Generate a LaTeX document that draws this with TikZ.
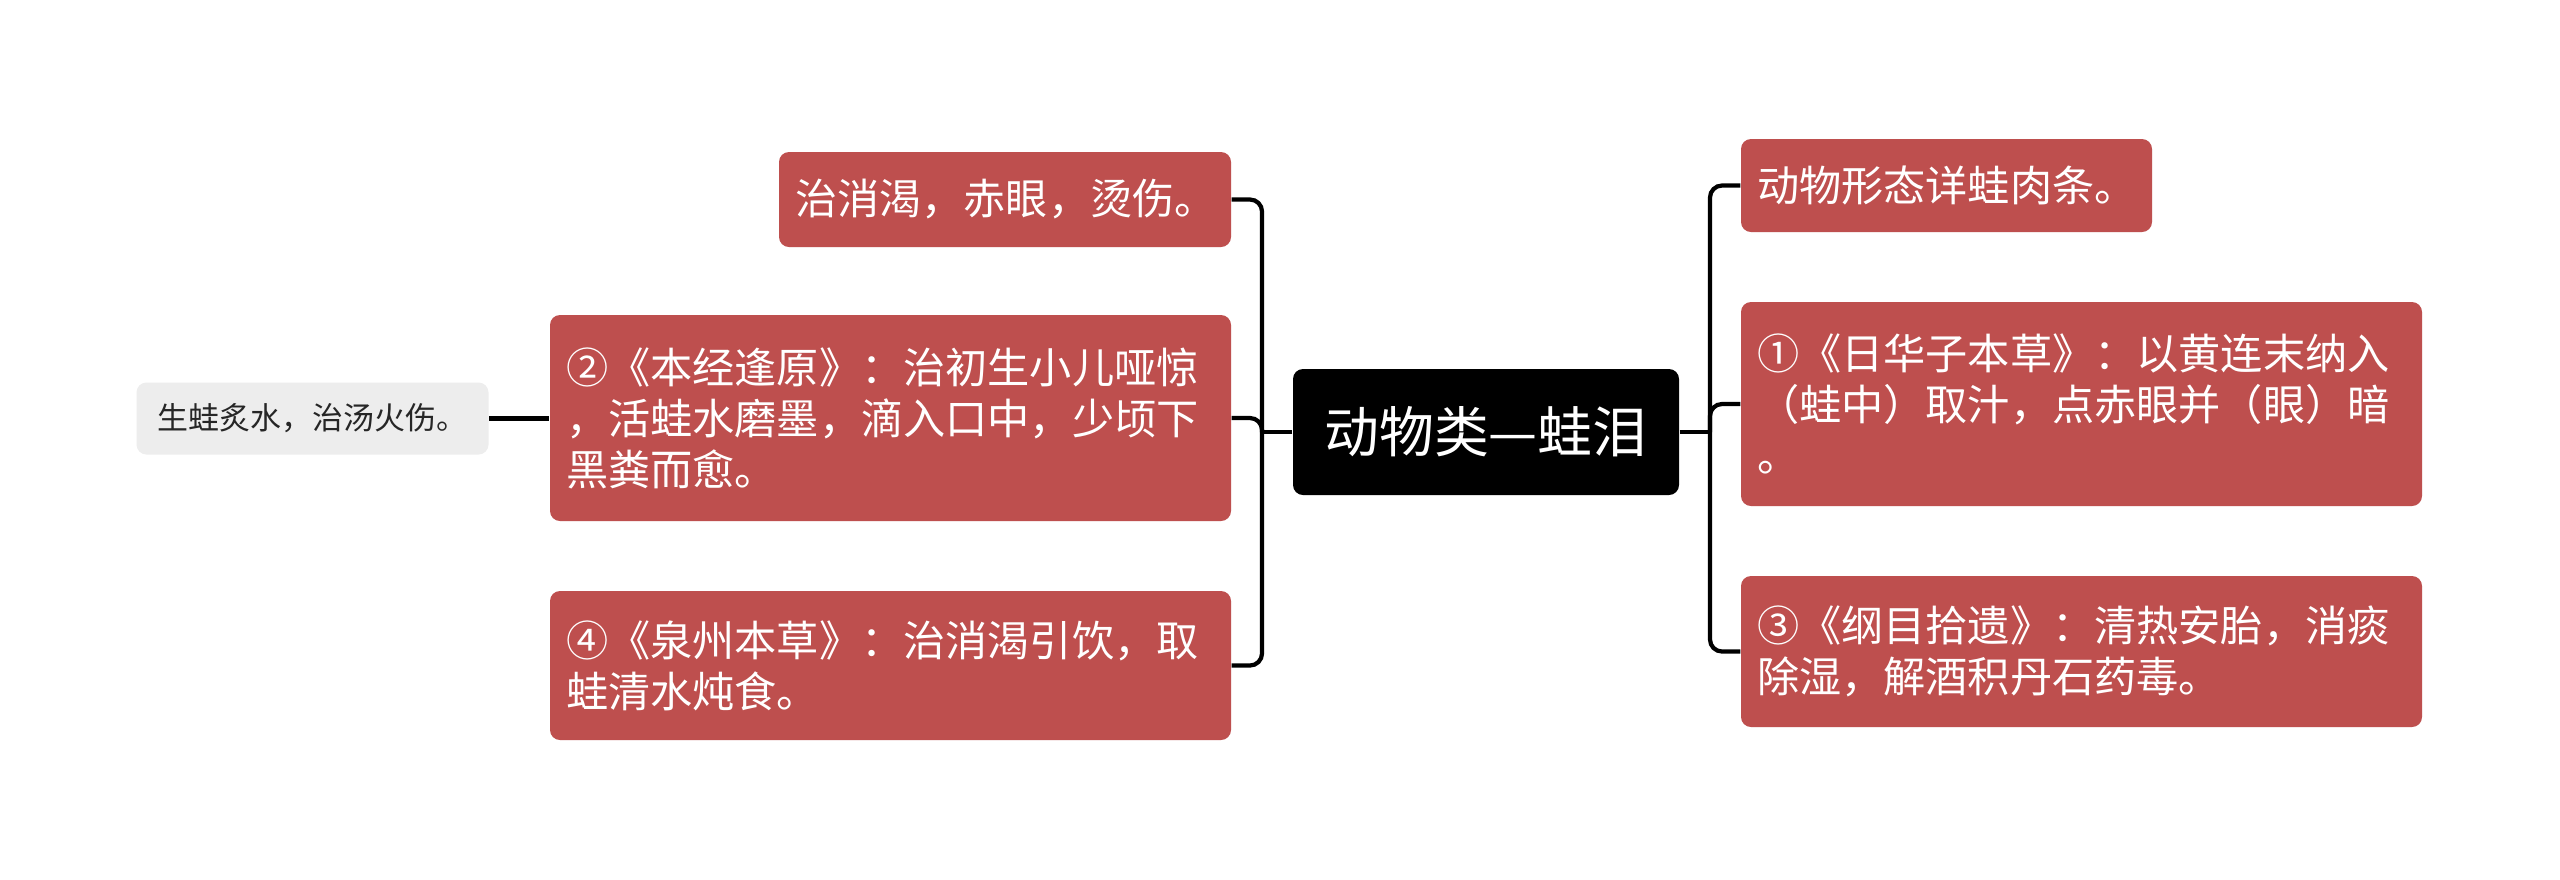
\documentclass[tikz,border=0pt]{standalone}
\usepackage{fontspec}
\setmainfont{Noto Sans CJK SC}
\usepackage{xcolor}
\usetikzlibrary{calc}
\definecolor{boxred}{RGB}{190,79,78}
\definecolor{boxgray}{RGB}{237,237,237}

\begin{document}
\begin{tikzpicture}[y=-1cm,
  redbox/.style={fill=boxred,text=white,rounded corners=0.1cm,align=left,inner xsep=0.16cm,inner ysep=0pt,font=\fontsize{12}{14.5}\selectfont},
  rootbox/.style={fill=black,text=white,rounded corners=0.1cm,align=center,inner sep=0pt,font=\fontsize{15.6}{18}\selectfont},
  graybox/.style={fill=boxgray,text=black!85,rounded corners=0.1cm,align=center,inner sep=0pt,font=\fontsize{8.8}{10.5}\selectfont},
  conn/.style={line width=1.2pt,rounded corners=0.12cm}]
\useasboundingbox[fill=white] (0,0) rectangle (25.6,8.79);
% centre topic
\node[rootbox,minimum width=3.86cm,minimum height=1.26cm] (root) at (14.86,4.32) {动物类—蛙泪};
% left side
\node[redbox,text width=4.20cm,minimum height=0.95cm] (cure) at (10.05,1.995) {治消渴，赤眼，烫伤。};
\node[redbox,text width=6.49cm,minimum height=2.06cm] (benjing) at (8.905,4.18) {②《本经逢原》：治初生小儿哑惊\\，活蛙水磨墨，滴入口中，少顷下\\黑粪而愈。};
\node[redbox,text width=6.49cm,minimum height=1.49cm] (quanzhou) at (8.905,6.655) {④《泉州本草》：治消渴引饮，取\\蛙清水炖食。};
\node[graybox,minimum width=3.52cm,minimum height=0.72cm] (burn) at (3.125,4.185) {生蛙炙水，治汤火伤。};
% right side
\node[redbox,text width=3.79cm,minimum height=0.93cm] (shape) at (19.465,1.855) {动物形态详蛙肉条。};
\node[redbox,text width=6.49cm,minimum height=2.04cm] (rihuazi) at (20.815,4.04) {①《日华子本草》：以黄连末纳入\\（蛙中）取汁，点赤眼并（眼）暗\\。};
\node[redbox,text width=6.49cm,minimum height=1.51cm] (gangmu) at (20.815,6.515) {③《纲目拾遗》：清热安胎，消痰\\除湿，解酒积丹石药毒。};
% connectors
\coordinate (jl) at (12.62,4.32); \coordinate (jr) at (17.10,4.32);
\draw[conn] (root.west) -- (jl); \draw[conn] (root.east) -- (jr);
\foreach \n in {cure,benjing,quanzhou} \draw[conn] (jl) |- (\n.east);
\foreach \n in {shape,rihuazi,gangmu} \draw[conn] (jr) |- (\n.west);
\draw[conn] (burn.east) -- (burn.east -| benjing.west);
\end{tikzpicture}
\end{document}
